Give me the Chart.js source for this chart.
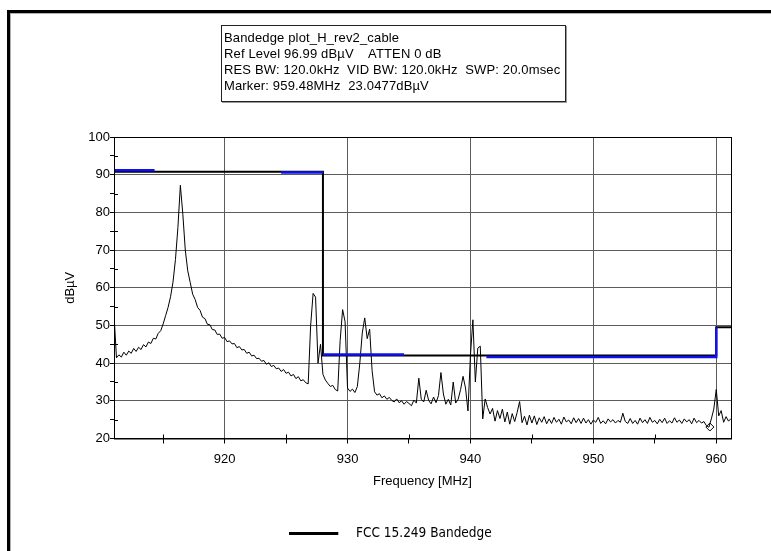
<!DOCTYPE html>
<html>
<head>
<meta charset="utf-8">
<script src="https://cdn.jsdelivr.net/npm/chart.js@4.4.1/dist/chart.umd.min.js"></script>
<style>
html,body{margin:0;padding:0;background:#fff;}
#wrap{position:relative;width:771px;height:551px;overflow:hidden;background:#fff;}
#frame{position:absolute;left:7px;top:10px;width:900px;height:700px;border-left:3px solid #000;border-top:3px solid #000;box-shadow:inset 1px 1px 0 #b0b0b0;}
#info{position:absolute;left:221px;top:25px;width:341px;height:71px;border:1px solid #222;box-shadow:1px 1px 0 #9a9a9a;
  font:13px "Liberation Sans",Arial,sans-serif;line-height:16px;letter-spacing:0.15px;padding:4px 0 0 2px;white-space:pre;color:#000;}
#c{position:absolute;left:0;top:0;}
</style>
</head>
<body>
<div id="wrap">
<div id="frame"></div>
<canvas id="c" width="771" height="551"></canvas>
<div id="info">Bandedge plot_H_rev2_cable
Ref Level 96.99 dBµV    ATTEN 0 dB
RES BW: 120.0kHz  VID BW: 120.0kHz  SWP: 20.0msec
Marker: 959.48MHz  23.0477dBµV</div>
</div>
<script>
// ---- data ----
const startMHz = 911.0;      // sweep start
const stepMHz = 0.2;         // sweep step
const traceLevels = [
  53.0, 41.4, 42.2, 41.6, 42.9, 42.1, 43.2, 42.6, 43.9, 43.1,
  44.2, 43.6, 44.9, 44.3, 45.6, 45.2, 46.6, 46.4, 47.9, 48.6,
  50.4, 52.6, 54.8, 57.6, 61.5, 67.5, 76.0, 87.2, 79.5, 70.0,
  64.5, 61.4, 58.3, 56.9, 54.8, 54.0, 52.2, 51.8, 50.3, 50.2,
  48.9, 48.8, 47.6, 47.7, 46.6, 46.8, 45.7, 45.9, 45.1, 45.2,
  44.1, 44.4, 43.5, 43.6, 42.6, 42.9, 41.9, 42.1, 41.2, 41.3,
  40.5, 40.7, 39.7, 40.1, 39.1, 39.4, 38.5, 38.7, 37.8, 38.3,
  37.3, 37.6, 36.6, 37.0, 35.9, 36.4, 35.3, 35.6, 34.8, 34.5,
  50.0, 58.5, 57.5, 40.0, 45.0, 37.0, 35.5, 34.6, 33.8, 34.1,
  33.0, 32.6, 46.0, 54.2, 51.0, 33.4, 32.5, 33.1, 32.2, 33.8,
  40.0, 48.0, 52.0, 46.5, 49.0, 38.0, 32.4, 31.5, 31.9, 30.8,
  31.3, 30.4, 30.9, 30.1, 29.7, 30.5, 29.5, 30.0, 29.1, 29.8,
  29.3, 28.7, 30.2, 29.4, 36.0, 30.4, 29.7, 32.8, 30.1, 29.2,
  31.0, 29.5, 31.4, 37.5, 31.8, 29.1, 30.4, 28.9, 35.0, 29.4,
  30.4, 33.0, 36.5, 33.4, 27.3, 42.0, 51.5, 35.0, 44.0, 44.5,
  25.2, 30.5, 28.2, 26.5, 28.0, 24.6, 27.4, 25.3, 27.8, 24.4,
  27.0, 23.8, 26.6, 24.5, 26.9, 29.8, 24.2, 25.9, 23.6, 26.2,
  24.1, 26.0, 23.7, 25.5, 24.3, 25.8, 23.9, 25.2, 24.0, 25.6,
  24.3, 25.1, 23.8, 25.7, 24.4, 24.9, 23.9, 25.5, 24.2, 25.3,
  24.0, 25.4, 24.1, 25.0, 23.8, 24.9, 24.3, 25.6, 24.0, 24.7,
  23.9, 25.2, 24.4, 25.0, 24.1, 24.8, 24.3, 26.7, 24.5, 24.0,
  25.3, 24.0, 24.8, 23.8, 25.4, 24.2, 25.0, 24.0, 25.6, 24.3,
  24.8, 23.9, 25.1, 24.2, 25.4, 24.0, 24.7, 24.1, 25.5, 24.3,
  24.9, 24.0, 25.2, 24.4, 25.0, 23.9, 25.4, 24.2, 24.8, 24.1,
  24.5, 23.4, 23.0, 25.2, 27.8, 33.0, 26.0, 27.4, 24.3, 25.8,
  24.6, 25.3
];
// FCC 15.249 band-edge limit (black)
const fccFreq  = [911.0, 928.0, 928.0, 960.0, 960.0, 961.2];
const fccLevel = [90.8, 90.8, 42.0, 42.0, 49.5, 49.5];
// blue limit segments (null = gap)
const blueFreq  = [911.0, 914.3, 914.3, 924.6, 928.0, 928.0, 928.0, 934.6, 934.6, 941.3, 960.0, 960.0];
const blueLevel = [91.2, 91.2, null, 90.6, 90.6, null, 42.3, 42.3, null, 41.6, 41.6, 49.5];
// marker
const markerFreq = [959.48];
const markerLevel = [23.0477];
// axes
const xMin = 911.0, xMax = 961.2, yMin = 20, yMax = 100;
const legendLabel = 'FCC 15.249 Bandedge';

const tracePts = traceLevels.map((v, i) => ({x: +(startMHz + i * stepMHz).toFixed(2), y: v}));
const pairs = (xs, ys) => xs.map((x, i) => ({x: x, y: ys[i]}));

Chart.defaults.font.family = '"Liberation Sans", Arial, sans-serif';
Chart.defaults.font.size = 13;
Chart.defaults.color = '#000';

// legend symbol: a 49px line followed by empty space (wider gap before the text)
const legendSym = document.createElement('canvas');
legendSym.width = 60; legendSym.height = 3;
(function () { const g = legendSym.getContext('2d'); g.fillStyle = '#000'; g.fillRect(0, 0, 49, 3); })();

const framePlugin = {
  id: 'frame',
  afterDatasetsDraw(chart) {
    const {ctx, chartArea: a, scales} = chart;
    ctx.save();
    ctx.strokeStyle = '#000';
    ctx.lineWidth = 1;
    ctx.strokeRect(a.left + 0.5, a.top + 0.5, a.right - a.left, a.bottom - a.top);
    ctx.beginPath();
    scales.y.ticks.forEach(t => {
      if (t.value % 10 !== 0) {
        const y = Math.round(scales.y.getPixelForValue(t.value)) + 0.5;
        ctx.moveTo(a.left, y); ctx.lineTo(a.left + 4, y);
      }
    });
    scales.x.ticks.forEach(t => {
      if (t.value % 10 !== 0) {
        const x = Math.round(scales.x.getPixelForValue(t.value)) + 0.5;
        ctx.moveTo(x, a.bottom); ctx.lineTo(x, a.bottom - 4);
      }
    });
    ctx.stroke();
    ctx.restore();
  }
};

const gridColor = c => (c.tick && c.tick.value % 10 === 0) ? '#5c5c5c' : 'rgba(0,0,0,0)';

new Chart(document.getElementById('c'), {
  type: 'line',
  data: {
    datasets: [
      {label: 'Trace', data: tracePts, borderColor: '#000', borderWidth: 1, pointRadius: 0, tension: 0, order: 3},
      {label: legendLabel, data: pairs(fccFreq, fccLevel), borderColor: '#000', backgroundColor: '#000', borderWidth: 2, pointRadius: 0, tension: 0, order: 2},
      {label: 'Limit', data: pairs(blueFreq, blueLevel), borderColor: '#1010ee', borderWidth: 2.5, pointRadius: 0, tension: 0, spanGaps: false, order: 1},
      {label: 'Marker', data: pairs(markerFreq, markerLevel), showLine: false, pointStyle: 'rectRot', pointRadius: 4, borderColor: '#000', borderWidth: 1, backgroundColor: 'rgba(0,0,0,0)', order: 0}
    ]
  },
  options: {
    responsive: false,
    animation: false,
    events: [],
    layout: {padding: {left: 50, right: 40, top: 137, bottom: 1}},
    plugins: {
      tooltip: {enabled: false},
      legend: {
        position: 'bottom',
        labels: {
          filter: item => item.text === legendLabel,
          usePointStyle: true,
          pointStyle: legendSym,
          pointStyleWidth: 60,
          padding: 10,
          color: '#000',
          font: {family: '"DejaVu Sans Condensed", "DejaVu Sans", sans-serif', size: 13.5}
        }
      }
    },
    scales: {
      x: {
        type: 'linear', min: xMin, max: xMax,
        afterFit: s => { s.height = 78; },
        ticks: {stepSize: 5, includeBounds: false, maxRotation: 0, autoSkip: false, padding: 8,
                callback: v => (v % 10 === 0 ? String(v) : '')},
        grid: {color: gridColor, tickColor: '#000', tickLength: 5, lineWidth: 1},
        border: {color: '#000', width: 1},
        title: {display: true, text: 'Frequency [MHz]', padding: {top: 0, bottom: 27}}
      },
      y: {
        min: yMin, max: yMax,
        afterFit: s => { s.width = 64; },
        ticks: {stepSize: 5, padding: 0, autoSkip: false, callback: v => (v % 10 === 0 ? String(v) : '')},
        grid: {color: gridColor, tickColor: '#000', tickLength: 4, lineWidth: 1},
        border: {color: '#000', width: 1},
        title: {display: true, text: 'dBµV', padding: {top: 13, bottom: 0}}
      }
    }
  },
  plugins: [framePlugin]
});
</script>
</body>
</html>
